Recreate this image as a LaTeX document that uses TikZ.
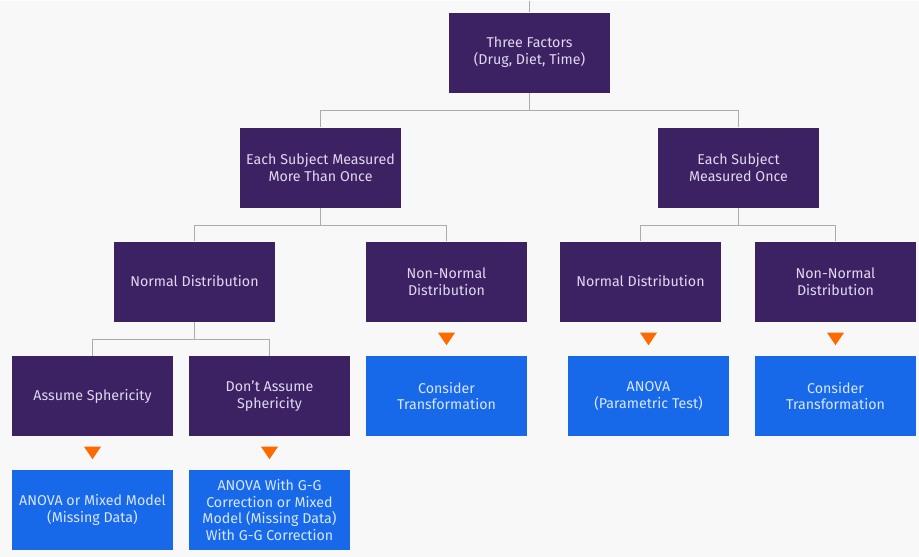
\documentclass[tikz,border=0pt]{standalone}
\usepackage{fontspec}
\setmainfont{Fira Sans}
\usetikzlibrary{calc}
\definecolor{boxpurple}{HTML}{3C2163}
\definecolor{boxblue}{HTML}{1769E9}
\definecolor{purpletext}{HTML}{E2D8F0}
\definecolor{bluetext}{HTML}{D8E6FF}
\definecolor{tipcolor}{HTML}{FF6A00}
\definecolor{linegray}{HTML}{ABABAB}
\definecolor{bgcolor}{HTML}{F8F8F8}

\begin{document}
\begin{tikzpicture}[x=0.02cm,y=-0.02cm,
  factor/.style={fill=boxpurple,text=purpletext,minimum width=3.22cm,minimum height=1.6cm,
    align=center,inner sep=0pt,font=\fontsize{8.1}{9.6}\selectfont},
  result/.style={factor,fill=boxblue,text=bluetext},
  link/.style={draw=linegray,line width=0.6pt}]

  \fill[bgcolor] (0,0) rectangle (919,556);

  % Top level
  \coordinate (entry) at (529.5,0);
  \node[factor] (three) at (529.5,52) {Three Factors\\(Drug, Diet, Time)};

  % Second level
  \node[factor] (more) at (320.5,167) {Each Subject Measured\\More Than Once};
  \node[factor] (once) at (738.5,167) {Each Subject\\Measured Once};

  % Third level
  \node[factor] (normA) at (194.5,281) {Normal Distribution};
  \node[factor] (nonA) at (446.5,281) {Non-Normal\\Distribution};
  \node[factor] (normB) at (640.5,281) {Normal Distribution};
  \node[factor] (nonB) at (835.5,281) {Non-Normal\\Distribution};

  % Fourth level
  \node[factor] (assume) at (92.5,395.5) {Assume Sphericity};
  \node[factor] (noassume) at (269.5,395.5) {Don't Assume\\Sphericity};
  \node[result] (transA) at (446.5,395.5) {Consider\\Transformation};
  \node[result] (anova) at (648.5,395.5) {ANOVA\\(Parametric Test)};
  \node[result] (transB) at (835.5,395.5) {Consider\\Transformation};

  % Last level
  \node[result] (mixed) at (92.5,509.5) {ANOVA or Mixed Model\\(Missing Data)};
  \node[result] (gg) at (269.5,509.5) {ANOVA With G-G\\Correction or Mixed\\Model (Missing Data)\\With G-G Correction};

  % Connectors
  \draw[link] (entry) -- (three.north);
  \draw[link] (three.south) -- ++(0,18) -| (more.north);
  \draw[link] (three.south) -- ++(0,18) -| (once.north);
  \draw[link] (more.south) -- ++(0,18) -| (normA.north);
  \draw[link] (more.south) -- ++(0,18) -| (nonA.north);
  \draw[link] (once.south) -- ++(0,18) -| (normB.north);
  \draw[link] (once.south) -- ++(0,18) -| (nonB.north);
  \draw[link] (normA.south) -- ++(0,18) -| (assume.north);
  \draw[link] (normA.south) -- ++(0,18) -| (noassume.north);

  % Orange markers
  \foreach \n in {transA,anova,transB,mixed,gg}
    \fill[tipcolor] ($(\n.north)+(-8.5,-23)$) -- ++(17,0) -- ++(-8.5,12.5) -- cycle;
\end{tikzpicture}
\end{document}
